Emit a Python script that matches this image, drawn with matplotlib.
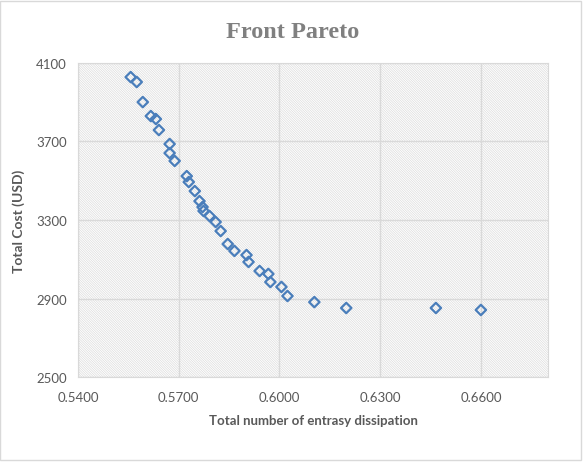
import matplotlib
matplotlib.use('Agg')
import matplotlib.pyplot as plt
from matplotlib.patches import Rectangle
from matplotlib.ticker import FuncFormatter

# Pareto front points
entropy = [0.5557, 0.5575, 0.5593, 0.5617, 0.5632, 0.5641, 0.5673, 0.5673,
           0.5688, 0.5724, 0.5730, 0.5748, 0.5762, 0.5771, 0.5774, 0.5792,
           0.5810, 0.5825, 0.5846, 0.5866, 0.5902, 0.5908, 0.5941, 0.5967,
           0.5973, 0.6006, 0.6024, 0.6104, 0.6199, 0.6466, 0.6600]
cost = [4026, 4001, 3899, 3828, 3813, 3757, 3686, 3640,
        3600, 3523, 3493, 3447, 3396, 3366, 3346, 3320,
        3290, 3244, 3178, 3143, 3122, 3087, 3041, 3026,
        2985, 2960, 2914, 2883, 2853, 2853, 2843]

x_ticks = [0.54, 0.57, 0.60, 0.63, 0.66]
y_ticks = [2500, 2900, 3300, 3700, 4100]

plt.rcParams['hatch.color'] = '#dcdcdc'
plt.rcParams['hatch.linewidth'] = 0.5

fig = plt.figure(figsize=(5.85, 4.64), dpi=100)
fig.patches.append(Rectangle((0.0, 0.006), 0.993, 0.99, transform=fig.transFigure,
                             facecolor='white', edgecolor='#d9d9d9', lw=1, zorder=-10))
ax = fig.add_axes([0.1333, 0.1843, 0.8035, 0.6788])

ax.add_patch(Rectangle((0, 0), 1, 1, transform=ax.transAxes, facecolor='white',
                       hatch='\\' * 14, edgecolor='#dcdcdc', lw=0, zorder=0))
ax.set_facecolor('none')

ax.scatter(entropy, cost, marker='D', s=28, facecolors='none',
           edgecolors='#4a7ebb', linewidths=1.6, zorder=3)

ax.set_xlim(0.54, 0.68)
ax.set_ylim(2500, 4100)
ax.set_xticks(x_ticks)
ax.set_yticks(y_ticks)
ax.xaxis.set_major_formatter(FuncFormatter(lambda v, p: f'{v:.4f}'))
ax.yaxis.set_major_formatter(FuncFormatter(lambda v, p: f'{v:.0f}'))
ax.grid(True, color='#d9d9d9', lw=1)
ax.set_axisbelow(True)
for s in ax.spines.values():
    s.set_color('#d9d9d9')
ax.tick_params(length=0, labelsize=9.5, labelcolor='#595959')
ax.tick_params(axis='x', pad=10)
ax.tick_params(axis='y', pad=8)
for lab in ax.get_xticklabels() + ax.get_yticklabels():
    lab.set_family('Lato')

ax.set_xlabel('Total number of entrasy dissipation', fontsize=9.5, fontweight='bold',
              color='#595959', family='Lato', labelpad=8)
ax.set_ylabel('Total Cost (USD)', fontsize=10, fontweight='bold',
              color='#595959', family='Lato', labelpad=8)
fig.text(0.5, 0.931, 'Front Pareto', ha='center', va='center', fontsize=17.5,
         fontweight='bold', color='#808080', family='Liberation Serif')

plt.savefig('out.png', dpi=100)
plt.close()
